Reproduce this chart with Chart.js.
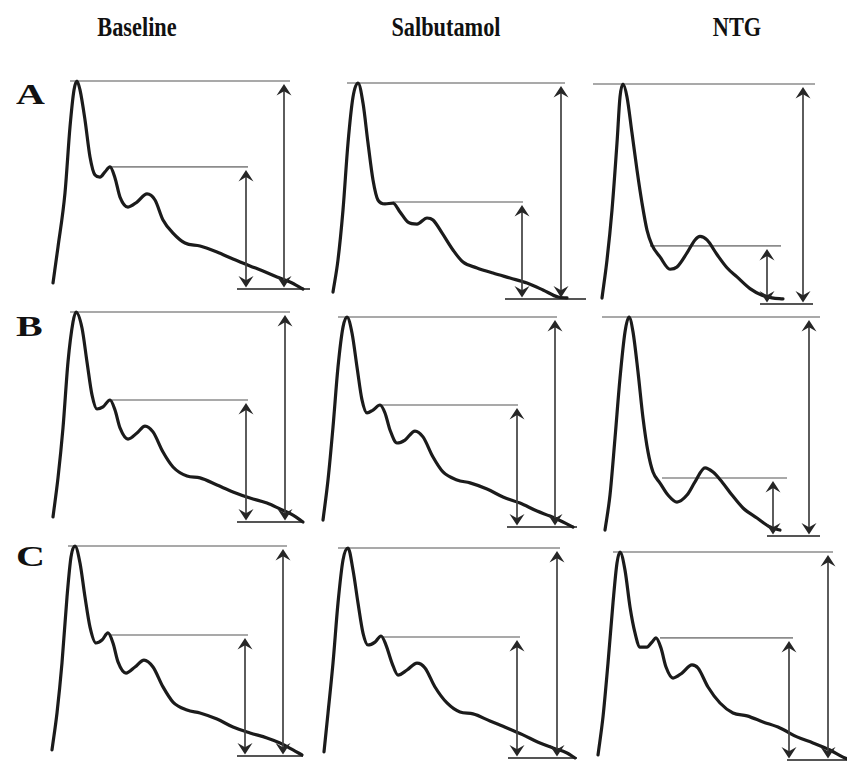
<!DOCTYPE html>
<html><head><meta charset="utf-8">
<script src="https://cdn.jsdelivr.net/npm/chart.js@4.4.1/dist/chart.umd.min.js"></script>
<style>
html,body{margin:0;padding:0;background:#fff;width:847px;height:761px;overflow:hidden;}
#fig{position:relative;width:847px;height:761px;overflow:hidden;}
#fig canvas{position:absolute;}
.col{position:absolute;top:16px;font-family:"Liberation Serif","Times New Roman",serif;font-weight:bold;font-size:23px;line-height:1;color:#111;transform:translateX(-50%) scale(0.97,1.15);white-space:nowrap;}
.row{position:absolute;left:16px;font-family:"Liberation Serif","Times New Roman",serif;font-weight:bold;font-size:29px;line-height:1;color:#111;transform-origin:left top;transform:scaleX(1.38);}
</style></head><body><div id="fig"></div>
<script>
// ---------- labels ----------
const columns = ['Baseline', 'Salbutamol', 'NTG'];
const rowLabels = ['A', 'B', 'C'];

// ---------- waveforms: t = time from foot (samples), amp = % of systolic peak ----------
const A_Baseline_t   = [0,5,12,17,21,24,27,32,37,42,47,52,57,62,67,75,84,94,102,110,120,132,147,164,180,197,210,224,237,250];
const A_Baseline_amp = [2.9,20.2,46.2,77.9,95.7,100,95.7,81.3,63.5,54.8,53.8,56.3,58.7,53.4,44.2,39.4,41.8,45.7,42.8,33.2,26.9,22.1,20.7,17.8,14.4,11.1,8.7,5.8,3.4,0];

const A_Salbutamol_t   = [0,5,10,15,20,25,30,35,40,45,52,60,67,75,84,94,100,109,120,130,144,160,177,194,210,225,234];
const A_Salbutamol_amp = [3.2,18.1,41.2,72.2,93.5,100,90.7,72.2,55.1,45.8,44.0,44.4,40.3,35.6,34.7,37.5,36.6,30.6,22.7,17.1,14.4,12.0,9.7,7.4,4.2,0.9,0.5];

const A_NTG_t   = [0,5,10,15,18,21,25,30,35,40,45,50,58,68,75,85,93,98,105,115,125,135,148,160,170,181];
const A_NTG_amp = [2.7,20.0,42.7,73.2,94.1,100,94.1,77.7,60.9,45.9,33.6,26.8,21.4,15.8,16.8,23.2,29.1,30.7,29.1,22.5,16.5,12.3,7.0,4.0,2.8,2.3];

const B_Baseline_t   = [0,5,10,15,20,23,29,34,39,44,50,57,62,67,75,84,92,100,110,120,134,147,164,180,197,214,227,240,250];
const B_Baseline_amp = [2.4,21.0,44.8,76.2,95.2,100,92.4,76.2,60.5,53.8,54.8,58.1,53.3,44.8,39.5,42.4,45.7,42.9,33.3,26.2,21.9,21.0,17.6,14.3,11.4,9.0,6.2,3.3,0];

const B_Salbutamol_t   = [0,5,10,15,20,24,29,34,39,44,50,57,62,67,74,82,92,100,110,120,134,147,164,180,197,214,227,240,250];
const B_Salbutamol_amp = [3.3,22.4,47.6,76.2,95.2,100,92.4,76.2,60.5,54.3,55.7,58.1,54.3,46.2,40.0,41.4,45.7,42.9,33.3,26.2,22.4,21.0,18.1,14.3,11.4,7.6,5.2,2.4,0];

const B_NTG_t   = [0,5,10,15,20,24,28,33,38,43,48,55,63,72,82,90,100,108,117,127,138,152,165,175];
const B_NTG_amp = [2.7,18.7,44.7,72.1,93.2,100,93.2,74.9,53.9,38.4,29.2,24.2,18.7,15.5,18.7,24.7,31.1,29.2,24.7,18.7,12.8,8.2,4.1,2.7];

const C_Baseline_t   = [0,5,10,15,19,23,28,33,38,44,50,56,61,66,74,83,92,101,111,121,135,148,165,181,198,215,228,241,250];
const C_Baseline_amp = [2.9,20.5,44.3,75.7,94.8,100,91.9,75.7,61.4,53.8,55.2,58.6,53.8,44.8,39.5,42.4,45.7,42.4,32.9,25.7,21.9,20.5,17.6,13.8,11.0,8.6,6.2,2.9,0.5];

const C_Salbutamol_t   = [0,4,9,14,19,24,29,34,39,44,51,57,62,68,74,83,93,101,111,123,136,149,166,183,199,216,229,243,251];
const C_Salbutamol_amp = [2.9,21.4,45.2,73.8,94.3,100,89.5,73.8,59.5,53.8,55.2,58.1,53.8,45.2,39.5,41.9,45.2,42.9,33.8,26.2,21.9,21.0,17.6,14.3,11.0,7.1,4.8,2.4,0];

const C_NTG_t   = [0,5,10,15,19,22,27,32,37,42,49,54,58,63,68,75,84,94,100,110,122,135,149,165,182,199,215,232,245,252];
const C_NTG_amp = [2.4,20.7,46.6,75.5,94.7,100,91.3,73.6,61.1,54.3,54.3,56.7,58.7,53.8,44.7,39.4,41.8,45.7,44.2,35.1,27.4,22.6,21.2,18.3,15.4,11.1,8.2,4.8,1.4,0];

// ---------- measurement marks (data units) ----------
// [notch level %, peak line t-from, t-to, notch line t-from, t-to, foot line t-from, t-to, short arrow t, long arrow t]
const A_Baseline_marks   = [58.7, 17,237, 57,195, 184,257, 193,231];
const A_Salbutamol_marks = [44.9, 14,232, 60,190, 172,253, 189,228];
const A_NTG_marks        = [26.4, -9,213, 48,179, 158,211, 165,201];
const B_Baseline_marks   = [58.1, 17,237, 59,195, 184,250, 193,232];
const B_Salbutamol_marks = [58.1, 15,234, 59,195, 184,254, 194,232];
const B_NTG_marks        = [26.5, -3,215, 57,182, 162,215, 168,204];
const C_Baseline_marks   = [57.6, 16,235, 58,196, 185,251, 193,231];
const C_Salbutamol_marks = [57.6, 14,236, 59,196, 184,253, 193,233];
const C_NTG_marks        = [58.7, 15,235, 62,195, 189,252, 191,230];

// ---------- layout (page pixels): [foot x, peak y, foot y] ----------
const layoutPos = [
  [53,81,289],  [333,83,299],  [602,84,304],
  [53,312,522], [323,317,527], [605,317,536],
  [52,546,756], [324,548,758], [598,552,760]
];
const labelTops = [80, 312, 542];
const colCenters = [137, 446, 737];

const panels = [
  [A_Baseline_t, A_Baseline_amp, A_Baseline_marks],
  [A_Salbutamol_t, A_Salbutamol_amp, A_Salbutamol_marks],
  [A_NTG_t, A_NTG_amp, A_NTG_marks],
  [B_Baseline_t, B_Baseline_amp, B_Baseline_marks],
  [B_Salbutamol_t, B_Salbutamol_amp, B_Salbutamol_marks],
  [B_NTG_t, B_NTG_amp, B_NTG_marks],
  [C_Baseline_t, C_Baseline_amp, C_Baseline_marks],
  [C_Salbutamol_t, C_Salbutamol_amp, C_Salbutamol_marks],
  [C_NTG_t, C_NTG_amp, C_NTG_marks]
];

const fig = document.getElementById('fig');

columns.forEach((c, i) => {
  const d = document.createElement('div');
  d.className = 'col'; d.textContent = c; d.style.left = colCenters[i] + 'px';
  fig.appendChild(d);
});
rowLabels.forEach((r, i) => {
  const d = document.createElement('div');
  d.className = 'row'; d.textContent = r; d.style.top = labelTops[i] + 'px';
  fig.appendChild(d);
});

function drawArrow(ctx, x, yTop, yBot) {
  const gapT = 3, gapB = 1.5, L = 11.5, W = 7.5;
  const top = yTop + gapT, bot = yBot - gapB;
  ctx.save();
  ctx.strokeStyle = '#404040'; ctx.lineWidth = 1.7;
  ctx.beginPath(); ctx.moveTo(x, top + L * 0.6); ctx.lineTo(x, bot - L * 0.6); ctx.stroke();
  ctx.fillStyle = '#262626';
  ctx.beginPath();
  ctx.moveTo(x, top); ctx.lineTo(x + W, top + L); ctx.lineTo(x, top + L * 0.62); ctx.lineTo(x - W, top + L);
  ctx.closePath(); ctx.fill();
  ctx.beginPath();
  ctx.moveTo(x, bot); ctx.lineTo(x + W, bot - L); ctx.lineTo(x, bot - L * 0.62); ctx.lineTo(x - W, bot - L);
  ctx.closePath(); ctx.fill();
  ctx.restore();
}

function seg(x1, x2, y, color, w) {
  return { data: [{x: x1, y: y}, {x: x2, y: y}], borderColor: color, borderWidth: w,
           pointRadius: 0, fill: false, tension: 0 };
}

panels.forEach(([t, amp, m], i) => {
  const [x0, peakY, footY] = layoutPos[i];
  const range = footY - peakY;
  const xMin = -15, xMax = 265, padT = 10, padB = 12;
  const cv = document.createElement('canvas');
  const W = xMax - xMin, H = range + padT + padB;
  cv.width = W; cv.height = H;
  cv.style.width = W + 'px'; cv.style.height = H + 'px';
  cv.style.left = (x0 + xMin) + 'px'; cv.style.top = (peakY - padT) + 'px';
  fig.appendChild(cv);

  const arrowPlugin = {
    id: 'arrows' + i,
    afterDatasetsDraw(chart) {
      const xs = chart.scales.x, ys = chart.scales.y, ctx = chart.ctx;
      drawArrow(ctx, xs.getPixelForValue(m[7]), ys.getPixelForValue(m[0]), ys.getPixelForValue(0));
      drawArrow(ctx, xs.getPixelForValue(m[8]), ys.getPixelForValue(100), ys.getPixelForValue(0));
    }
  };

  new Chart(cv, {
    type: 'line',
    data: {
      datasets: [
        { data: t.map((v, k) => ({x: v, y: amp[k]})), borderColor: '#1b1b1b', borderWidth: 3.2,
          pointRadius: 0, fill: false, cubicInterpolationMode: 'monotone',
          borderCapStyle: 'round', borderJoinStyle: 'round' },
        seg(m[1], m[2], 100, '#8c8c8c', 1.6),
        seg(m[3], m[4], m[0], '#8c8c8c', 1.6),
        seg(m[5], m[6], 0, '#555555', 2)
      ]
    },
    options: {
      responsive: false, animation: false, devicePixelRatio: 1,
      layout: { padding: 0 },
      plugins: { legend: { display: false }, tooltip: { enabled: false }, title: { display: false } },
      events: [],
      scales: {
        x: { type: 'linear', display: false, min: xMin, max: xMax },
        y: { type: 'linear', display: false, min: -padB * 100 / range, max: 100 + padT * 100 / range }
      }
    },
    plugins: [arrowPlugin]
  });
});
</script>
</body></html>
